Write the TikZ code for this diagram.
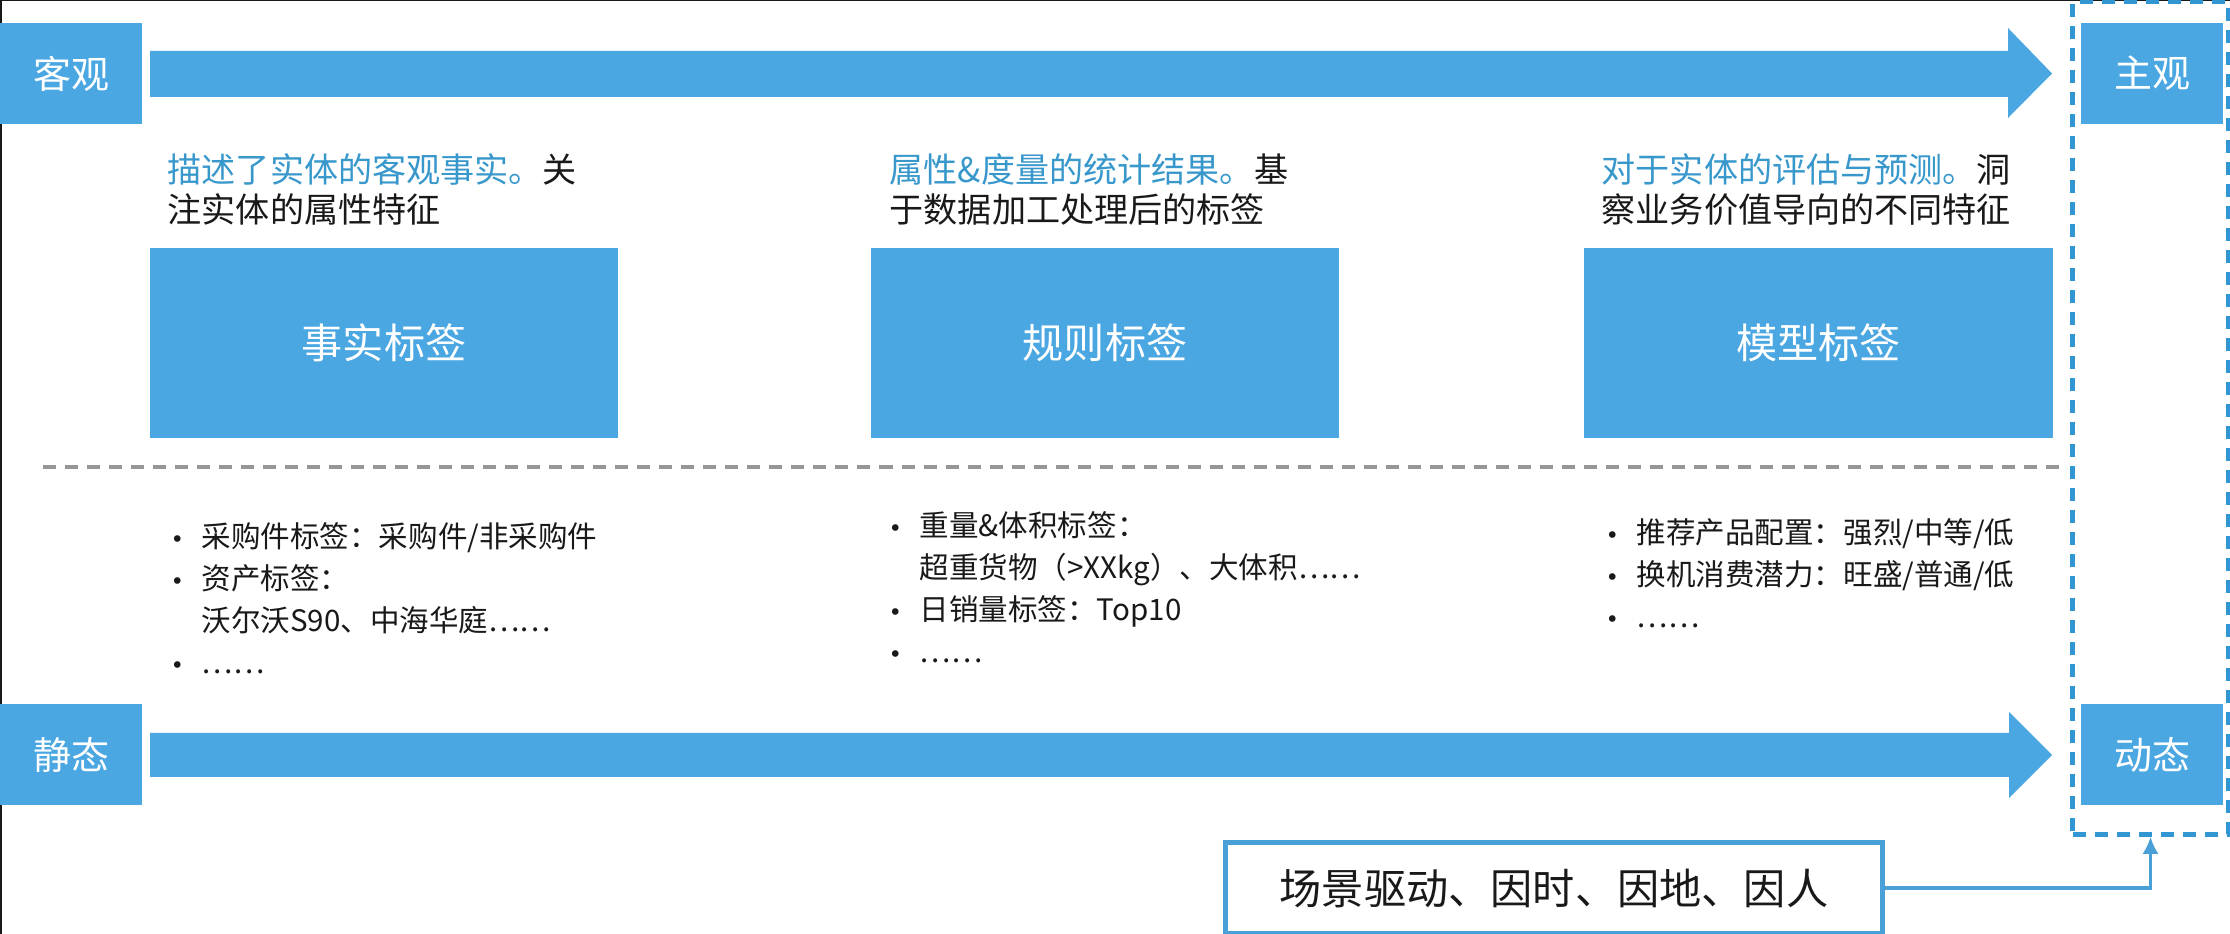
\documentclass[tikz,border=0pt]{standalone}
\usepackage{fontspec}
\setmainfont{Noto Sans CJK SC}
\newfontfamily\dotfont{DejaVu Sans}
\usetikzlibrary{arrows.meta}

\definecolor{tagblue}{RGB}{74,167,226}
\definecolor{leadblue}{RGB}{56,152,204}
\definecolor{frameblue}{RGB}{50,150,210}
\definecolor{sceneblue}{RGB}{72,160,214}
\definecolor{sepgray}{RGB}{150,150,150}
\definecolor{inkblack}{RGB}{25,25,25}

\newcommand\bul{\makebox[0.31cm][l]{{\dotfont\fontsize{6.5}{6.5}\selectfont •}}}
\newcommand\ind{\makebox[0.31cm]{}}

\begin{document}
\begin{tikzpicture}[x=0.01cm,y=-0.01cm,>=Latex,sidebox/.style={rectangle,fill=tagblue,text=white,minimum width=1.41cm,minimum height=1.01cm,inner sep=0pt,font=\fontsize{10.8}{13}\selectfont},tagbox/.style={rectangle,fill=tagblue,text=white,minimum width=4.68cm,minimum height=1.90cm,inner sep=0pt,font=\fontsize{11.7}{14}\selectfont},desc/.style={anchor=north west,inner sep=0pt,align=left,text=inkblack,font=\fontsize{9.7}{11.4}\selectfont},bullets/.style={anchor=north west,inner sep=0pt,align=left,text=inkblack,font=\fontsize{8.4}{11.9}\selectfont},bigarrow/.style={fill=tagblue},sepline/.style={draw=sepgray,line width=0.04cm,dash pattern=on 0.13cm off 0.09cm},framebox/.style={rectangle,draw=frameblue,line width=0.05cm,dash pattern=on 0.13cm off 0.09cm,minimum width=1.55cm,minimum height=8.32cm,inner sep=0pt},scenebox/.style={rectangle,draw=sceneblue,line width=0.05cm,fill=white,minimum width=6.56cm,minimum height=0.91cm,text=inkblack,font=\fontsize{12}{14}\selectfont},feed/.style={-{Latex[length=0.17cm,width=0.16cm]},color=sceneblue,line width=0.03cm}]
\useasboundingbox (0,0) rectangle (2230,934);
\fill[white] (0,0) rectangle (2230,934);
\draw[inkblack,line width=0.03cm] (0,934)--(0,0)--(2230,0);
% side labels
\node[sidebox] (objective) at (71,73.5) {客观};
\node[sidebox] (subjective) at (2152,73.5) {主观};
\node[sidebox] (static) at (71,754.5) {静态};
\node[sidebox] (dynamic) at (2152,754.5) {动态};
\node[framebox] (subjframe) at (2150.5,418) {};
% wide arrows
\fill[bigarrow] (150,51)--(2008,51)--(2008,28)--(2052,73.5)--(2008,118)--(2008,97)--(150,97)--cycle;
\fill[bigarrow] (150,733)--(2009,733)--(2009,712)--(2052,755)--(2009,798)--(2009,777)--(150,777)--cycle;
% descriptions
\node[desc] (factdesc) at (167,153) {\textcolor{leadblue}{描述了实体的客观事实。}关\\注实体的属性特征};
\node[desc] (ruledesc) at (889,153) {\textcolor{leadblue}{属性\&度量的统计结果。}基\\于数据加工处理后的标签};
\node[desc] (modeldesc) at (1601,153) {\textcolor{leadblue}{对于实体的评估与预测。}洞\\察业务价值导向的不同特征};
% tag boxes
\node[tagbox] (facttag) at (384,343) {事实标签};
\node[tagbox] (ruletag) at (1105,343) {规则标签};
\node[tagbox] (modeltag) at (1818.5,343) {模型标签};
\draw[sepline] (43,467)--(2061,467);
% examples
\node[bullets] (factlist) at (170,522) {\bul 采购件标签：采购件/非采购件\\\bul 资产标签：\\\ind 沃尔沃S90、中海华庭……\\\bul ……};
\node[bullets] (rulelist) at (888,511) {\bul 重量\&体积标签：\\\ind 超重货物（>XXkg）、大体积……\\\bul 日销量标签：Top10\\\bul ……};
\node[bullets] (modellist) at (1605,518) {\bul 推荐产品配置：强烈/中等/低\\\bul 换机消费潜力：旺盛/普通/低\\\bul ……};
% scene driver
\node[scenebox] (scene) at (1554,888) {场景驱动、因时、因地、因人};
\draw[feed] (scene.east) -| (subjframe.south);
\end{tikzpicture}
\end{document}
